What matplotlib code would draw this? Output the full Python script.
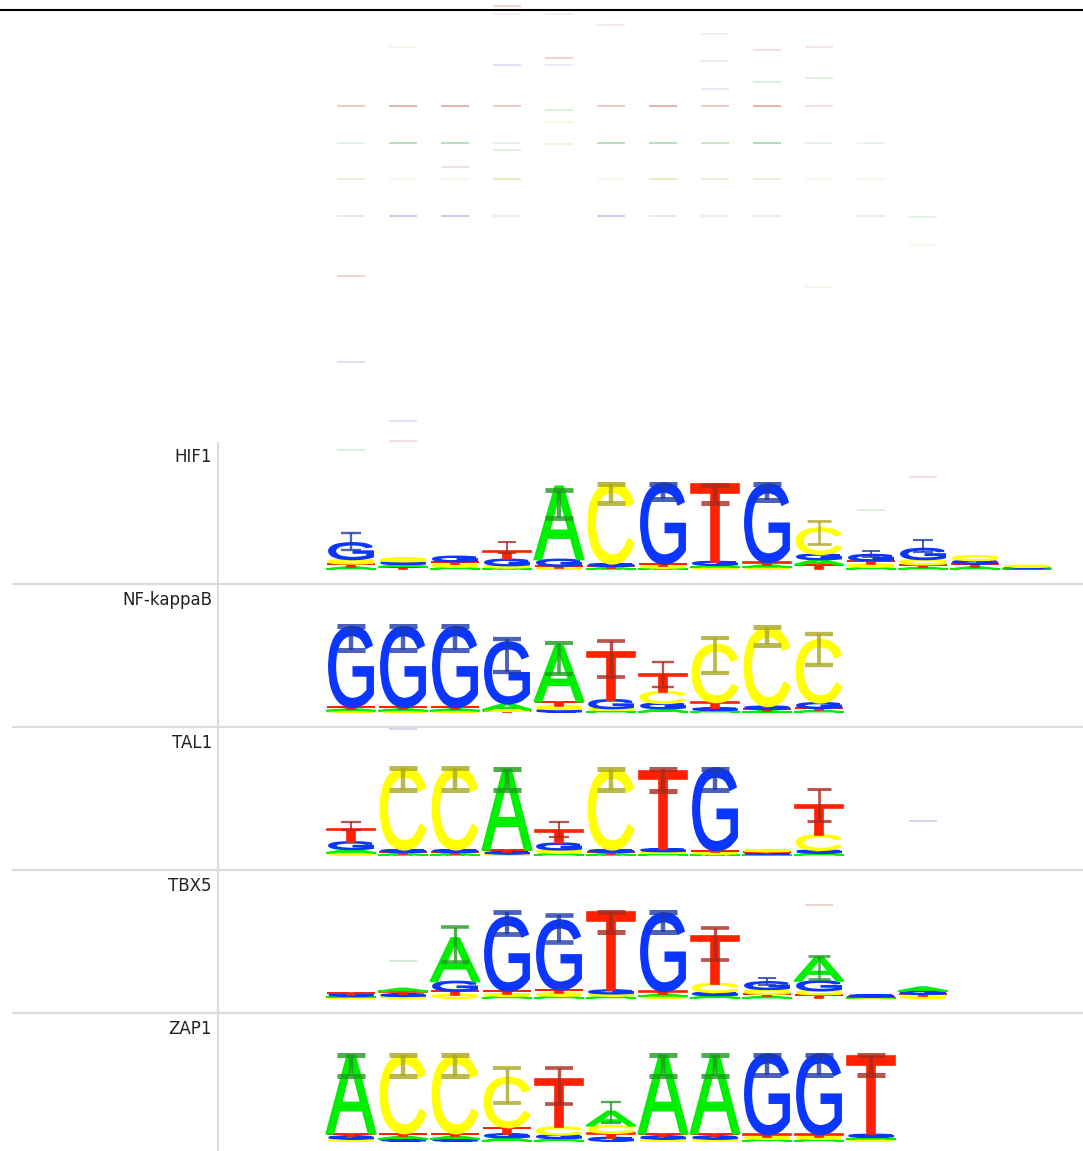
import matplotlib
matplotlib.use("Agg")
import matplotlib.pyplot as plt
from matplotlib.textpath import TextPath
from matplotlib.font_manager import FontProperties
from matplotlib.patches import PathPatch
from matplotlib.transforms import Affine2D
from matplotlib.lines import Line2D

# ---------------- motif data (bits per position) ----------------
motifs = ["HIF1", "NF-kappaB", "TAL1", "TBX5", "ZAP1"]

hif1 = {
    "A": [.05, .06, .05, .03, 1.68, .03, .03, .05, .05, .12, .05, .04, .05, .02],
    "C": [.10, .08, .06, .05, .03, 1.85, .04, .04, .04, .60, .06, .12, .10, .03],
    "G": [.38, .06, .12, .14, .15, .05, 1.85, .08, 1.80, .12, .14, .25, .08, .02],
    "T": [.07, .05, .06, .20, .04, .04, .05, 1.78, .06, .10, .08, .06, .07, .01],
}
hif1_err = [(.44, .83), None, None, (.37, .62), (1.17, 1.82), (1.52, 1.95), (1.61, 1.95),
            (1.52, 1.93), (1.59, 1.95), (.57, 1.11), (.28, .41), (.39, .67), None, None]

nfkb = {
    "A": [.04, .04, .04, .14, 1.28, .04, .08, .04, .02, .04],
    "C": [.03, .03, .03, .03, .08, .04, .27, 1.33, 1.80, 1.45],
    "G": [1.85, 1.85, 1.85, 1.42, .06, .20, .12, .05, .06, .12],
    "T": [.04, .04, .04, .02, .10, 1.10, .40, .13, .05, .05],
}
nfkb_err = [(1.43, 1.97), (1.43, 1.97), (1.43, 1.97), (.92, 1.68), (.87, 1.59),
            (.80, 1.63), (.57, 1.15), (.90, 1.70), (1.54, 1.95), (1.08, 1.79)]

tal1 = {
    "A": [.08, .03, .03, 1.85, .05, .03, .04, .03, .02, .05],
    "C": [.05, 1.88, 1.88, .03, .07, 1.85, .04, .03, .04, .35],
    "G": [.17, .05, .05, .04, .15, .05, .06, 1.90, .03, .06],
    "T": [.30, .04, .04, .05, .30, .04, 1.80, .04, .03, .70],
}
tal1_err = [(.57, .76), (1.49, 2.0), (1.49, 2.0), (1.49, 1.98), (.41, .76),
            (1.49, 1.98), (1.47, 1.97), (1.50, 1.98), None, (.78, 1.52)]

tbx5 = {
    "A": [.03, .07, 1.00, .05, .05, .05, .05, .06, .04, .55, .01, .09],
    "C": [.02, .04, .08, .05, .06, .05, .04, .20, .11, .09, .01, .04],
    "G": [.03, .05, .22, 1.70, 1.60, .08, 1.80, .07, .17, .22, .04, .07],
    "T": [.03, .06, .08, .06, .08, 1.80, .06, 1.10, .05, .08, .01, .05],
}
tbx5_err = [None, None, (.83, 1.63), (1.47, 1.98), (1.29, 1.91), (1.52, 1.98),
            (1.52, 1.98), (.87, 1.61), (.30, .45), (.44, .97), None, None]

zap1 = {
    "A": [1.80, .06, .06, .08, .06, .33, 1.80, 1.80, .05, .05, .05],
    "C": [.05, 1.80, 1.80, 1.15, .18, .17, .05, .05, .05, .05, .04],
    "G": [.06, .05, .05, .08, .08, .08, .06, .06, 1.85, 1.85, .06],
    "T": [.06, .06, .06, .15, 1.10, .10, .06, .06, .05, .05, 1.80],
}
zap1_err = [(1.50, 1.98), (1.50, 1.98), (1.50, 1.98), (.87, 1.68), (.85, 1.68),
            (.41, .90), (1.50, 1.98), (1.50, 1.98), (1.52, 1.98), (1.52, 1.98), (1.52, 1.98)]

# upper caps of near-zero letters (row, column, base, bits, opacity)
faint_caps = [
    (0, 0, "T", 10.64, .25), (0, 0, "A", 9.79, .12), (0, 0, "C", 8.97, .20), (0, 0, "G", 8.11, .12),
    (0, 0, "T", 6.74, .20), (0, 0, "G", 4.76, .15), (0, 0, "A", 2.74, .15),
    (0, 1, "C", 12.0, .10), (0, 1, "T", 10.64, .35), (0, 1, "A", 9.79, .30), (0, 1, "C", 8.97, .10),
    (0, 1, "G", 8.11, .25), (0, 1, "G", 3.40, .15), (0, 1, "T", 2.94, .15),
    (0, 2, "T", 10.64, .35), (0, 2, "A", 9.79, .30), (0, 2, "T", 9.24, .15), (0, 2, "C", 8.97, .10),
    (0, 2, "G", 8.11, .25),
    (0, 3, "T", 12.94, .20), (0, 3, "A", 12.76, .10), (0, 3, "G", 11.59, .15), (0, 3, "T", 10.64, .25),
    (0, 3, "A", 9.79, .10), (0, 3, "A", 9.63, .15), (0, 3, "C", 8.97, .25), (0, 3, "G", 8.11, .10),
    (0, 4, "A", 12.76, .10), (0, 4, "T", 11.75, .20), (0, 4, "G", 11.59, .10), (0, 4, "A", 10.55, .15),
    (0, 4, "C", 10.28, .10), (0, 4, "C", 9.77, .15),
    (0, 5, "T", 12.5, .10), (0, 5, "T", 10.64, .25), (0, 5, "A", 9.79, .30), (0, 5, "C", 8.97, .10),
    (0, 5, "G", 8.11, .25),
    (0, 6, "T", 10.64, .35), (0, 6, "A", 9.79, .30), (0, 6, "C", 8.97, .25), (0, 6, "G", 8.11, .12),
    (0, 7, "A", 12.3, .10), (0, 7, "G", 11.68, .10), (0, 7, "G", 11.03, .12), (0, 7, "T", 10.64, .25),
    (0, 7, "A", 9.79, .25), (0, 7, "C", 8.97, .20), (0, 7, "G", 8.11, .10),
    (0, 8, "T", 11.93, .15), (0, 8, "A", 11.2, .15), (0, 8, "T", 10.64, .35), (0, 8, "A", 9.79, .35),
    (0, 8, "C", 8.97, .20), (0, 8, "G", 8.11, .10),
    (0, 9, "T", 12.0, .12), (0, 9, "A", 11.29, .15), (0, 9, "T", 10.64, .15), (0, 9, "A", 9.79, .10),
    (0, 9, "C", 8.97, .10), (0, 9, "C", 6.48, .10),
    (0, 10, "A", 9.79, .10), (0, 10, "C", 8.97, .10), (0, 10, "G", 8.11, .10), (0, 10, "A", 1.36, .15),
    (0, 11, "A", 8.09, .12), (0, 11, "C", 7.45, .10), (0, 11, "T", 2.11, .15),
    (2, 1, "G", 2.90, .20), (2, 11, "G", .78, .20),
    (3, 1, "A", .85, .20), (3, 9, "T", 2.14, .20),
]

rows = [(hif1, hif1_err), (nfkb, nfkb_err), (tal1, tal1_err), (tbx5, tbx5_err), (zap1, zap1_err)]

# ---------------- styling ----------------
COLORS = {"A": "#00ee00", "C": "#ffff00", "G": "#0a36ff", "T": "#ff2200"}
ERR_COLORS = {"A": "#1f9a1f", "C": "#aaa822", "G": "#1f3aa8", "T": "#a82a1e"}
FILL = {"A": .95, "C": .87, "G": .85, "T": .94}

FONT = FontProperties(family="Liberation Sans")
GLYPHS = {}
for b in "ACGT":
    p = TextPath((0, 0), b, size=1, prop=FONT)
    GLYPHS[b] = (p, p.get_extents())

W, H = 1083, 1151
ROW_TOP = 441
ROW_H = 143
PX_PER_BIT = 43.5
BASE_OFF = 15          # baseline distance above row bottom (px)

fig = plt.figure(figsize=(W / 100, H / 100), dpi=100)
fig.patch.set_facecolor("white")


def draw_letter(ax, base, x, y0, h):
    p, ext = GLYPHS[base]
    w = FILL[base]
    t = (Affine2D().translate(-ext.x0, -ext.y0)
         .scale(w / ext.width, h / ext.height)
         .translate(x - w / 2, y0))
    # a thin outline of the same colour keeps hairline strips visible
    ax.add_patch(PathPatch(t.transform_path(p), facecolor=COLORS[base],
                           edgecolor=COLORS[base], lw=1.2, clip_on=False))


axes = []
for r, (name, (bits, errs)) in enumerate(zip(motifs, rows)):
    top = ROW_TOP + r * ROW_H
    ax = fig.add_axes([325 / W, 1 - (top + ROW_H) / H, 754 / W, ROW_H / H])
    ax.set_xlim(-0.5, 14)
    ax.set_ylim(-BASE_OFF / PX_PER_BIT, (ROW_H - BASE_OFF) / PX_PER_BIT)
    ax.axis("off")
    axes.append(ax)

    ncol = len(bits["A"])
    for i in range(ncol):
        col = sorted("ACGT", key=lambda b: bits[b][i])
        y = 0.0
        for b in col:
            h = bits[b][i]
            draw_letter(ax, b, i, y, h)
            y += h
        if errs[i] is not None:
            lo, hi = errs[i]
            main = col[-1]
            strength = min(bits[main][i] / 1.8, 1)
            ax.errorbar(i, (lo + hi) / 2, yerr=(hi - lo) / 2, fmt="none",
                        ecolor=ERR_COLORS[main], alpha=0.8,
                        elinewidth=1.2 + 2.0 * strength,
                        capsize=6 + 4 * min(bits[main][i], 1),
                        capthick=1.2 + 2.4 * strength, clip_on=False)

    fig.text(212 / W, 1 - (top + 16) / H, name, ha="right", va="center",
             fontsize=12, color="#222222", family="DejaVu Sans")

for r, i, b, yb, a in faint_caps:
    axes[r].hlines(yb, i - 0.27, i + 0.27, color=ERR_COLORS[b], alpha=a, lw=1.4, clip_on=False)

# frame lines
line_kw = dict(transform=fig.transFigure, color="#dcdce0", lw=1.6)
for r in range(1, 5):
    y = 1 - (ROW_TOP + r * ROW_H) / H
    fig.add_artist(Line2D([13 / W, 1], [y, y], **line_kw))
fig.add_artist(Line2D([218 / W, 218 / W], [1 - 443 / H, 0], **line_kw))
fig.add_artist(Line2D([0, 1], [1 - 10 / H, 1 - 10 / H], transform=fig.transFigure,
                      color="black", lw=1.5))

fig.savefig("out.png", dpi=100, facecolor="white")
